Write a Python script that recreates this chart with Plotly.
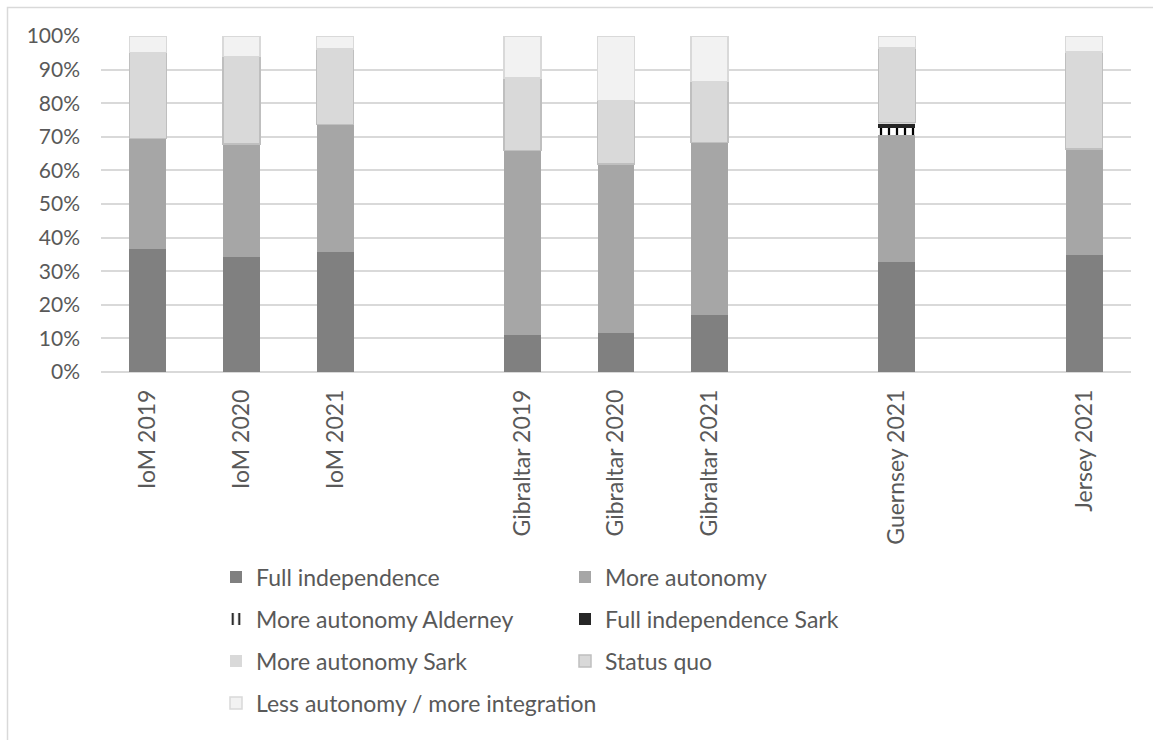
import plotly.graph_objects as go

# Survey categories; blank entries leave gaps between territory groups
categories = ["IoM 2019", "IoM 2020", "IoM 2021", " ",
              "Gibraltar 2019", "Gibraltar 2020", "Gibraltar 2021", "  ",
              "Guernsey 2021", "   ", "Jersey 2021"]

# Shares of respondents (%) per option
full_independence = [36.5, 34.1, 35.8, None, 11.0, 11.7, 17.0, None, 32.7, None, 34.8]
more_autonomy = [33.0, 33.8, 37.9, None, 54.9, 50.2, 51.3, None, 37.8, None, 31.5]
more_autonomy_alderney = [None, None, None, None, None, None, None, None, 2.0, None, None]
full_independence_sark = [None, None, None, None, None, None, None, None, 1.2, None, None]
more_autonomy_sark = [None, None, None, None, None, None, None, None, 0.6, None, None]
status_quo = [25.6, 26.0, 22.4, None, 21.6, 18.9, 18.1, None, 22.2, None, 29.0]
less_autonomy = [4.9, 6.1, 3.9, None, 12.5, 19.2, 13.6, None, 3.5, None, 4.7]

FONT = "Lato"
TEXT = "#595959"
GRID = "#d9d9d9"

W, H = 1153, 740
PL, PR, PT, PB = 101, 1131, 36, 372  # plot area in pixels

fig = go.Figure()

series = [
    ("Full independence", full_independence, dict(color="#808080", line=dict(width=0)), "legend"),
    ("More autonomy", more_autonomy, dict(color="#a6a6a6", line=dict(width=0)), "legend"),
    ("More autonomy Alderney", more_autonomy_alderney,
     dict(color="#ffffff", line=dict(width=0),
          pattern=dict(shape="|", fgcolor="#000000", bgcolor="#ffffff",
                       size=8, solidity=0.28, fillmode="replace")), "legend2"),
    ("Full independence Sark", full_independence_sark, dict(color="#262626", line=dict(width=0)), "legend2"),
    ("More autonomy Sark", more_autonomy_sark, dict(color="#d9d9d9", line=dict(width=0)), "legend3"),
    ("Status quo", status_quo, dict(color="#d9d9d9", line=dict(color="#bfbfbf", width=1.5)), "legend3"),
    ("Less autonomy / more integration", less_autonomy,
     dict(color="#f2f2f2", line=dict(color="#d9d9d9", width=1.5)), "legend4"),
]

for name, vals, marker, leg in series:
    fig.add_trace(go.Bar(x=categories, y=vals, name=name, marker=marker, legend=leg))

# Legend rows laid out as two columns beneath the chart
leg_x = 216 / W
row_centres = [577, 619, 661, 703]
leg_common = dict(orientation="h", xref="container", yref="container",
                  xanchor="left", yanchor="middle", x=leg_x,
                  entrywidth=304, entrywidthmode="pixels",
                  font=dict(family=FONT, size=23, color=TEXT),
                  bgcolor="rgba(0,0,0,0)", borderwidth=0, traceorder="normal")

fig.update_layout(
    width=W, height=H,
    barmode="stack", bargap=0.605,
    paper_bgcolor="white", plot_bgcolor="white",
    margin=dict(l=PL, r=W - PR, t=PT, b=H - PB, autoexpand=False),
    font=dict(family=FONT, size=23, color=TEXT),
    legend=dict(leg_common, y=1 - row_centres[0] / H),
    legend2=dict(leg_common, y=1 - row_centres[1] / H),
    legend3=dict(leg_common, y=1 - row_centres[2] / H),
    legend4=dict(leg_common, y=1 - row_centres[3] / H, entrywidth=600),
    xaxis=dict(type="category", categoryorder="array", categoryarray=categories,
               tickangle=-90, showgrid=False, showline=False, ticks="",
               ticklabelstandoff=12, automargin=False,
               tickfont=dict(family=FONT, size=23, color=TEXT)),
    yaxis=dict(range=[0, 100], dtick=10, ticksuffix="%", showgrid=True,
               gridcolor=GRID, gridwidth=1.5, zeroline=True,
               zerolinecolor=GRID, zerolinewidth=1.5, showline=False,
               ticks="", ticklabelstandoff=20, automargin=False,
               tickfont=dict(family=FONT, size=21, color=TEXT)),
    shapes=[dict(type="rect", xref="paper", yref="paper",
                 x0=(7.5 - PL) / (PR - PL), x1=1.3,
                 y0=-2.0, y1=(PB - 7.5) / (PB - PT),
                 line=dict(color=GRID, width=1.5), fillcolor="rgba(0,0,0,0)",
                 layer="below")],
)

fig.write_html("out.html")
